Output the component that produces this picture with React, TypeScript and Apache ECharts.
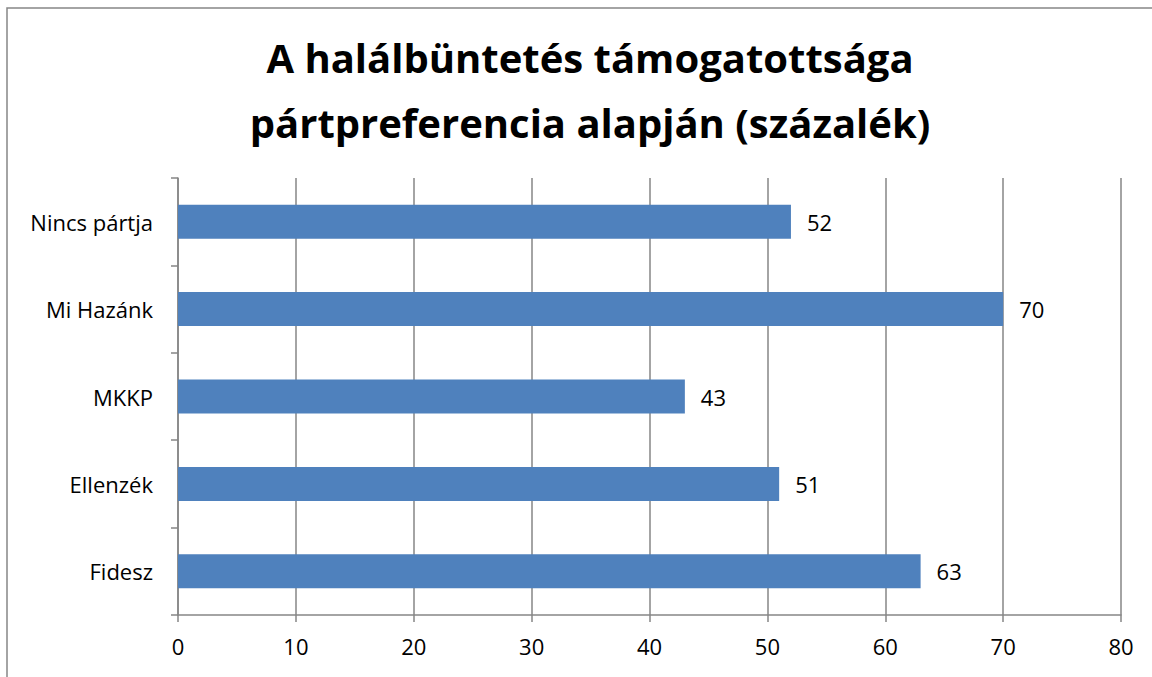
import React, { useEffect, useRef } from "react";
import * as echarts from "echarts";

const categories = ["Fidesz", "Ellenzék", "MKKP", "Mi Hazánk", "Nincs pártja"];
const values = [63, 51, 43, 70, 52];
const xTicks = { min: 0, max: 80, interval: 10 };
const titleText = "A halálbüntetés támogatottsága\npártpreferencia alapján (százalék)";

const FONT = "'Open Sans', sans-serif";
const GRAY = "#868686";

export default function App() {
  const ref = useRef<HTMLDivElement>(null);
  useEffect(() => {
    document.body.style.margin = "0";
    const chart = echarts.init(ref.current!, null, { renderer: "svg" });
    chart.setOption({
      animation: false,
      backgroundColor: "#ffffff",
      title: {
        text: titleText,
        left: 585,
        top: 20,
        textAlign: "center",
        textStyle: { fontFamily: FONT, fontSize: 40, fontWeight: "bold", color: "#000", lineHeight: 65 },
      },
      graphic: [
        {
          type: "rect",
          shape: { x: 7, y: 8, width: 1200, height: 700 },
          style: { fill: "none", stroke: GRAY, lineWidth: 1.5 },
          silent: true,
        },
      ],
      grid: { left: 178, right: 31, top: 178, bottom: 62, containLabel: false },
      xAxis: {
        type: "value",
        min: xTicks.min,
        max: xTicks.max,
        interval: xTicks.interval,
        axisLine: { show: true, lineStyle: { color: GRAY, width: 1.5 } },
        axisTick: { show: true, length: 7, lineStyle: { color: GRAY, width: 1.5 } },
        splitLine: { show: true, lineStyle: { color: GRAY, width: 1.5 } },
        axisLabel: { fontFamily: FONT, fontSize: 22, color: "#000", margin: 20 },
      },
      yAxis: {
        type: "category",
        data: categories,
        axisLine: { show: true, lineStyle: { color: GRAY, width: 1.5 } },
        axisTick: { show: true, length: 7, lineStyle: { color: GRAY, width: 1.5 } },
        splitLine: { show: false },
        axisLabel: { fontFamily: FONT, fontSize: 22, color: "#000", margin: 25 },
      },
      series: [
        {
          type: "bar",
          data: values,
          barWidth: 34,
          itemStyle: { color: "#4F81BD" },
          label: {
            show: true,
            position: "right",
            distance: 16,
            fontFamily: FONT,
            fontSize: 22,
            color: "#000",
          },
        },
      ],
    });
    return () => chart.dispose();
  }, []);
  return <div ref={ref} style={{ width: 1152, height: 677 }} />;
}
